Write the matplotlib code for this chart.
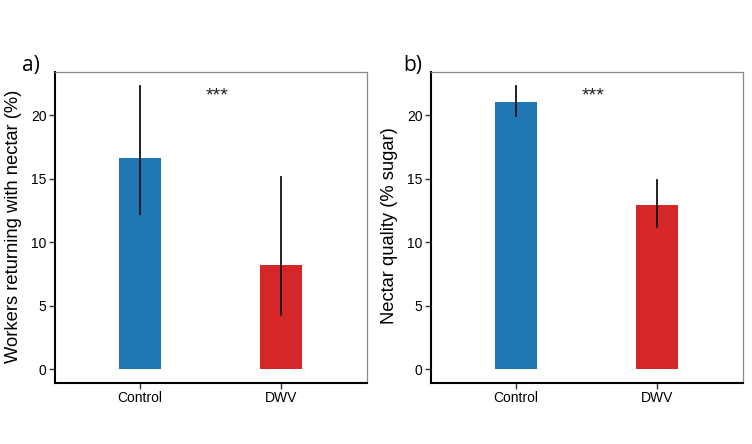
import matplotlib
matplotlib.use("Agg")
import matplotlib.pyplot as plt

categories = ["Control", "DWV"]
workers_mean = [16.6, 8.2]
workers_low = [12.2, 4.25]
workers_high = [22.3, 15.1]
quality_mean = [21.05, 12.95]
quality_low = [19.9, 11.2]
quality_high = [22.3, 14.9]
yticks = [0, 5, 10, 15, 20]
colors = ["#1f77b4", "#d62728"]

fig = plt.figure(figsize=(7.52, 4.44), dpi=100)

def panel(rect, means, lows, highs, ylabel, tag, tag_x):
    ax = fig.add_axes(rect)
    x = [1, 2]
    ax.bar(x, means, width=0.3, color=colors, zorder=2)
    for xi, lo, hi in zip(x, lows, highs):
        ax.plot([xi, xi], [lo, hi], color="#111111", lw=1.3, zorder=3)
    ax.set_xlim(0.4, 2.61)
    ax.set_ylim(-1.1, 23.4)
    ax.set_xticks(x)
    ax.set_xticklabels(categories, fontsize=10, family="Liberation Sans")
    ax.set_yticks(yticks)
    ax.set_yticklabels([str(t) for t in yticks], fontsize=10, family="Liberation Sans")
    ax.tick_params(axis="both", length=4, width=1, color="#333333", pad=2)
    for s in ["left", "bottom"]:
        ax.spines[s].set_linewidth(1.5)
        ax.spines[s].set_color("black")
    for s in ["top", "right"]:
        ax.spines[s].set_linewidth(0.9)
        ax.spines[s].set_color("#8a8a8a")
    ax.set_ylabel(ylabel, fontsize=13.2, family="Liberation Sans")
    ax.yaxis.set_label_coords(-0.105, 0.505)
    ax.text(1.55, 21.5, "***", ha="center", va="center", fontsize=14, family="Liberation Sans",
            color="#222222")
    fig.text(tag_x, 1 - 66 / 444, tag, fontsize=15, family="Open Sans", ha="left", va="center")
    return ax

panel([55 / 752, 61 / 444, 312 / 752, 311 / 444], workers_mean, workers_low, workers_high,
      "Workers returning with nectar (%)", "a)", 22 / 752)
panel([431 / 752, 61 / 444, 312 / 752, 311 / 444], quality_mean, quality_low, quality_high,
      "Nectar quality (% sugar)", "b)", 403 / 752)

fig.savefig("out.png", dpi=100)
